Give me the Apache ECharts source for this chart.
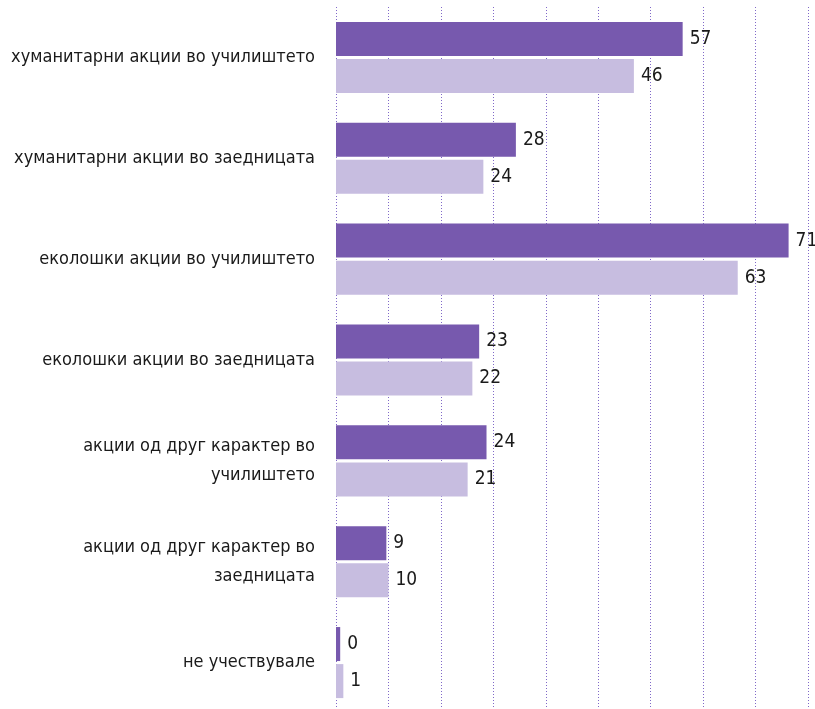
<!DOCTYPE html>
<html>
<head>
<meta charset="utf-8">
<script src="https://cdn.jsdelivr.net/npm/echarts@6/dist/echarts.min.js"></script>
<style>
  html, body {margin: 0; padding: 0; background: #fff;}
  #chart {width: 815px; height: 709px;}
</style>
</head>
<body>
<div id="chart"></div>
<script>
const categories = [
  "хуманитарни акции во училиштето",
  "хуманитарни акции во заедницата",
  "еколошки акции во училиштето",
  "еколошки акции во заедницата",
  "акции од друг карактер во\nучилиштето",
  "акции од друг карактер во\nзаедницата",
  "не учествувале"
];

// bar lengths as drawn (axis units), and the numbers printed next to them
const darkValues = [66.1, 34.3, 86.3, 27.3, 28.7, 9.6, 0.8];
const darkLabels = [57, 28, 71, 23, 24, 9, 0];
const lightValues = [56.8, 28.1, 76.6, 26.0, 25.1, 10.0, 1.4];
const lightLabels = [46, 24, 63, 22, 21, 10, 1];

const narrow = "'DejaVu Sans Condensed', sans-serif";

const chart = echarts.init(document.getElementById("chart"));

function valueLabel (labels) {
  return {
    show: true,
    position: "right",
    distance: 7,
    color: "#1a1a1a",
    fontFamily: narrow,
    fontSize: 19,
    formatter: (p) => String(labels[p.dataIndex])
  };
}

chart.setOption({
  animation: false,
  grid: {
    left: 336,
    right: 7,
    top: 7,
    height: 706,
    outerBoundsMode: "none"
  },
  xAxis: {
    type: "value",
    min: 0,
    max: 90,
    interval: 10,
    axisLabel: {show: false},
    axisLine: {show: false},
    axisTick: {show: false},
    splitLine: {
      show: true,
      lineStyle: {color: "#8068c8", type: [1, 2], width: 1}
    }
  },
  yAxis: {
    type: "category",
    inverse: true,
    data: categories,
    axisLine: {show: false},
    axisTick: {show: false},
    axisLabel: {
      margin: 21,
      align: "right",
      color: "#1a1a1a",
      fontFamily: narrow,
      fontSize: 18,
      lineHeight: 29
    }
  },
  series: [
    {
      type: "bar",
      data: darkValues,
      barWidth: 34,
      barGap: "9%",
      itemStyle: {color: "#7759ae"},
      label: valueLabel(darkLabels)
    },
    {
      type: "bar",
      data: lightValues,
      barWidth: 34,
      itemStyle: {color: "#c7bde0"},
      label: valueLabel(lightLabels)
    }
  ]
});
</script>
</body>
</html>
